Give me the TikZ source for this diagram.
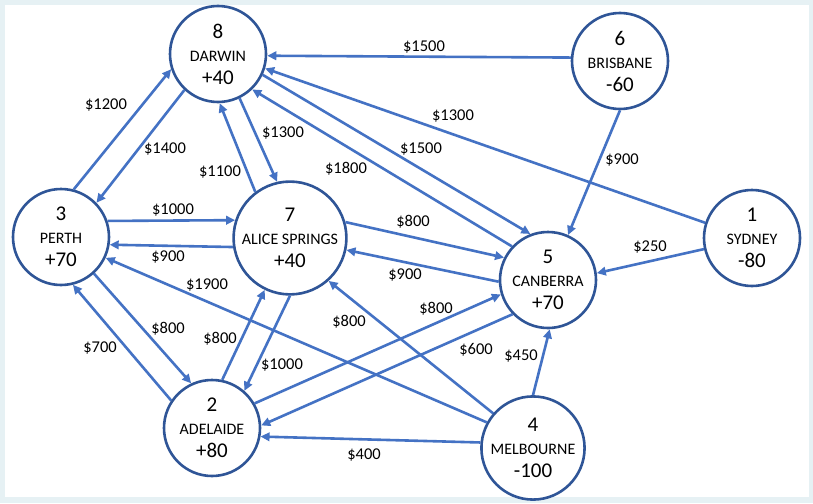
\documentclass[tikz,border=0pt]{standalone}
\usepackage{fontspec}
\setmainfont{Carlito}
\usetikzlibrary{arrows.meta}
\definecolor{edgeblue}{HTML}{4472C4}
\definecolor{ringblue}{HTML}{2F5597}
\definecolor{framebg}{HTML}{E6F1F4}
\newcommand{\bignum}[1]{{\fontsize{21}{23}\selectfont #1}}

\begin{document}
\begin{tikzpicture}[x=1pt,y=-1pt,
  city/.style={circle,draw=ringblue,line width=2.6pt,fill=white,minimum size=96pt,
    inner sep=0pt,align=center,font=\fontsize{16}{23}\selectfont},
  bigcity/.style={city,minimum size=103pt},
  flow/.style={draw=edgeblue,line width=2.6pt,-{Triangle[length=9pt,width=8.5pt]}},
  cost/.style={font=\fontsize{16.5}{18}\selectfont,inner sep=0pt},
]
% frame
\fill[framebg] (0,0) rectangle (813,503);
\fill[white] (5,5) rectangle (809,497);
\useasboundingbox (0,0) rectangle (813,503);

% cities
\node[city]    (n8) at (218,54)  {\bignum{8}\\DARWIN\\\bignum{+40}};
\node[city]    (n6) at (620,61)  {\bignum{6}\\BRISBANE\\\bignum{-60}};
\node[city]    (n3) at (61,237)  {\bignum{3}\\PERTH\\\bignum{+70}};
\node[bigcity] (n7) at (290,238) {\bignum{7}\\ALICE SPRINGS\\\bignum{+40}};
\node[city]    (n5) at (548,280) {\bignum{5}\\CANBERRA\\\bignum{+70}};
\node[city]    (n1) at (752,238) {\bignum{1}\\SYDNEY\\\bignum{-80}};
\node[city]    (n2) at (212,428) {\bignum{2}\\ADELAIDE\\\bignum{+80}};
\node[city]    (n4) at (533,448) {\bignum{4}\\MELBOURNE\\\bignum{-100}};

% flows
\draw[flow] (n6.176) -- (n8.-2);
\draw[flow] (n1.162) -- (n8.-17);
\draw[flow] (n8.-25) -- (n5.111);
\draw[flow] (n5.137) -- (n8.-46);
\draw[flow] (n8.-64) -- (n7.103);
\draw[flow] (n7.127) -- (n8.-88);
\draw[flow] (n3.75) -- (n8.198);
\draw[flow] (n8.-133) -- (n3.44);
\draw[flow] (n3.19) -- (n7.162);
\draw[flow] (n7.189) -- (n3.-9);
\draw[flow] (n7.16) -- (n5.153);
\draw[flow] (n5.182) -- (n7.-12);
\draw[flow] (n1.193) -- (n5.8);
\draw[flow] (n6.-90) -- (n5.66);
\draw[flow] (n4.90) -- (n5.-88);
\draw[flow] (n2.30) -- (n5.197);
\draw[flow] (n5.224) -- (n2.3);
\draw[flow] (n4.174) -- (n2.-10);
\draw[flow] (n4.151) -- (n3.-25);
\draw[flow] (n4.139) -- (n7.-48);
\draw[flow] (n3.-48) -- (n2.115);
\draw[flow] (n2.146) -- (n3.-76);
\draw[flow] (n2.78) -- (n7.-116);
\draw[flow] (n7.-90) -- (n2.49);

% costs
\node[cost] (c1)  at (424,47)  {\$1500};
\node[cost] (c2)  at (453,116) {\$1300};
\node[cost] (c3)  at (421,149) {\$1500};
\node[cost] (c4)  at (346,169) {\$1800};
\node[cost] (c5)  at (283,133) {\$1300};
\node[cost] (c6)  at (220,172) {\$1100};
\node[cost] (c7)  at (106,105) {\$1200};
\node[cost] (c8)  at (165,149) {\$1400};
\node[cost] (c9)  at (173,210) {\$1000};
\node[cost] (c10) at (168,257) {\$900};
\node[cost] (c11) at (413,222) {\$800};
\node[cost] (c12) at (405,275) {\$900};
\node[cost] (c13) at (650,247) {\$250};
\node[cost] (c14) at (622,160) {\$900};
\node[cost] (c15) at (521,356) {\$450};
\node[cost] (c16) at (436,309) {\$800};
\node[cost] (c17) at (476,350) {\$600};
\node[cost] (c18) at (364,455) {\$400};
\node[cost] (c19) at (207,285) {\$1900};
\node[cost] (c20) at (349,322) {\$800};
\node[cost] (c21) at (168,329) {\$800};
\node[cost] (c22) at (100,348) {\$700};
\node[cost] (c23) at (220,339) {\$800};
\node[cost] (c24) at (282,365) {\$1000};
\end{tikzpicture}
\end{document}
